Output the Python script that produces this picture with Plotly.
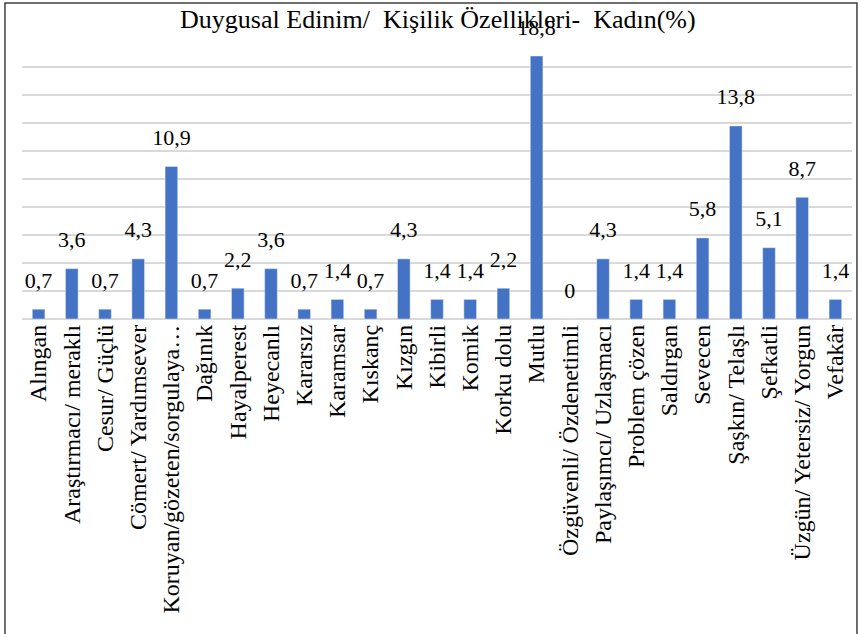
import plotly.graph_objects as go

categories = ["Alıngan", "Araştırmacı/ meraklı", "Cesur/ Güçlü", "Cömert/ Yardımsever",
              "Koruyan/gözeten/sorgulaya…", "Dağınık", "Hayalperest", "Heyecanlı",
              "Kararsız", "Karamsar", "Kıskanç", "Kızgın", "Kibirli", "Komik",
              "Korku dolu", "Mutlu", "Özgüvenli/ Özdenetimli", "Paylaşımcı/ Uzlaşmacı",
              "Problem çözen", "Saldırgan", "Sevecen", "Şaşkın/ Telaşlı", "Şefkatli",
              "Üzgün/ Yetersiz/ Yorgun", "Vefakâr"]
values = [0.7, 3.6, 0.7, 4.3, 10.9, 0.7, 2.2, 3.6, 0.7, 1.4, 0.7, 4.3, 1.4, 1.4,
          2.2, 18.8, 0, 4.3, 1.4, 1.4, 5.8, 13.8, 5.1, 8.7, 1.4]
title_text = "Duygusal Edinim/  Kişilik Özellikleri-  Kadın(%)"

labels = [("%g" % v).replace(".", ",") for v in values]
serif = "Liberation Serif"

fig = go.Figure()
fig.add_trace(go.Bar(x=categories, y=values, marker=dict(color="#4472C4"),
                     hoverinfo="x+y"))
fig.add_trace(go.Scatter(x=categories, y=values, mode="markers+text", text=labels,
                         textposition="top center", cliponaxis=False,
                         marker=dict(size=24, color="rgba(0,0,0,0)"),
                         textfont=dict(family=serif, size=22, color="#000000"),
                         hoverinfo="skip"))

fig.update_layout(
    width=862, height=634,
    margin=dict(l=22, r=10, t=39, b=315),
    paper_bgcolor="white", plot_bgcolor="white",
    bargap=0.62, showlegend=False,
    title=dict(text=title_text, x=0.508, xanchor="center", y=0.97, yanchor="middle",
               font=dict(family=serif, size=26, color="#000000")),
    xaxis=dict(tickangle=-90, tickfont=dict(family=serif, size=24, color="#000000"),
               range=[-0.5, len(categories) - 0.5],
               showgrid=False, showline=False, ticks="", automargin=False),
    yaxis=dict(range=[0, 20.02], tick0=0, dtick=2, showticklabels=False, showgrid=True,
               gridcolor="#d9d9d9", gridwidth=1.5, zeroline=True,
               zerolinecolor="#d9d9d9", zerolinewidth=1.5, automargin=False),
    shapes=[dict(type="rect", xref="paper", yref="paper",
                 x0=-0.0205, x1=1.006, y0=-1.2, y1=1.1286,
                 line=dict(color="#404040", width=1.5), fillcolor="rgba(0,0,0,0)")],
)

fig.write_html("out.html", config={"displayModeBar": False})
with open("out.html", encoding="utf-8") as f:
    html = f.read()
html = html.replace("<body>", "<body style=\"margin:0;padding:0;overflow:hidden\">", 1)
with open("out.html", "w", encoding="utf-8") as f:
    f.write(html)
